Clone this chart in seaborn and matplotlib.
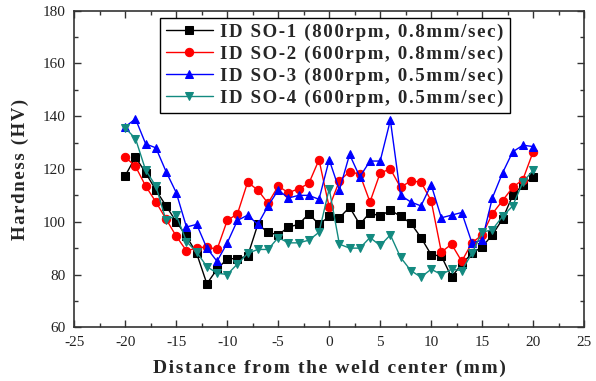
import numpy as np
import pandas as pd
import matplotlib
matplotlib.use("Agg")
import matplotlib.pyplot as plt
import seaborn as sns
from matplotlib.ticker import MultipleLocator

distance = list(range(-20, 21))
so1 = [117.5, 124.5, 118.5, 112, 106, 100, 94.5, 88, 76.5, 82, 86, 86, 87, 99, 96, 95,
       98, 99, 103, 99, 102, 101.5, 105.5, 99, 103.5, 102, 104.5, 102, 99.5, 94, 87.5,
       87, 79, 84, 88, 90.5, 95, 101, 110, 114, 117]
so2 = [124.5, 121, 113.5, 107.5, 101, 94.5, 89, 90, 90.5, 89.5, 100.5, 103, 115, 112,
       107, 113.5, 111, 112.5, 114.5, 123.5, 105.5, 115.5, 119, 118, 107.5, 118.5, 120,
       113, 115.5, 115, 108, 88.5, 91.5, 85, 92, 95, 103, 108, 113, 116, 126.5]
so3 = [136, 139, 129.5, 128, 119, 111, 98, 99, 90, 85, 92, 100.5, 102.5, 99, 106, 112,
       109, 110, 110, 108.5, 123.5, 112, 125.5, 117, 123, 123, 138.5, 110, 107.5, 106,
       114, 101.5, 102.5, 103.5, 92, 93, 109, 118.5, 126.5, 129, 128.5]
so4 = [135.5, 131.5, 119.5, 113.5, 100.5, 102.5, 92.5, 88.5, 83, 80.5, 80, 84, 88, 89.5,
       89.5, 94, 92, 92, 93, 96, 112.5, 91.5, 90, 90, 94, 91, 95, 86.5, 81.5, 79, 82, 80,
       82, 81.5, 88, 96, 97, 102, 106, 115, 119.5]
labels = ["ID SO-1 (800rpm, 0.8mm/sec)", "ID SO-2 (600rpm, 0.8mm/sec)",
          "ID SO-3 (800rpm, 0.5mm/sec)", "ID SO-4 (600rpm, 0.5mm/sec)"]
xlabel = "Distance from the weld center (mm)"
ylabel = "Hardness (HV)"
series = [so1, so2, so3, so4]
colors = ["#000000", "#ff0000", "#0000ff", "#138a80"]
markers = ["s", "o", "^", "v"]


def spaced(s):
    return "\u200a".join(s)


sns.set_style("ticks")
plt.rcParams["font.family"] = ["Liberation Serif", "DejaVu Serif"]
plt.rcParams["axes.unicode_minus"] = False

fig = plt.figure(figsize=(5.96, 3.81), dpi=100)
ax = fig.add_axes([0.1247, 0.141, 0.8553, 0.831])

for vals, lab, c, m in zip(series, labels, colors, markers):
    df = pd.DataFrame({"x": distance, "y": vals})
    sns.lineplot(data=df, x="x", y="y", ax=ax, color=c, marker=m, markersize=6,
                 markeredgecolor=c, linewidth=1.0, label=spaced(lab))

ax.set_xlim(-25, 25)
ax.set_ylim(60, 180)
ax.xaxis.set_major_locator(MultipleLocator(5))
ax.xaxis.set_minor_locator(MultipleLocator(2.5))
ax.yaxis.set_major_locator(MultipleLocator(20))
ax.yaxis.set_minor_locator(MultipleLocator(10))
ax.tick_params(which="both", direction="in", top=True, right=True, colors="#333333",
               labelcolor="#222222")
ax.tick_params(which="major", length=5, width=1.0, labelsize=11, pad=6)
ax.tick_params(which="minor", length=3, width=1.0)
for s in ax.spines.values():
    s.set_linewidth(1.2)
    s.set_color("#333333")

ax.set_xlabel(spaced(xlabel), fontsize=14, fontweight="bold", labelpad=8)
ax.set_ylabel(spaced(ylabel), fontsize=13.5, fontweight="bold", labelpad=10)

leg = ax.legend(loc="upper left", bbox_to_anchor=(0.168, 0.977), borderaxespad=0,
                frameon=True, fancybox=False, edgecolor="black", framealpha=1,
                prop={"weight": "bold", "size": 13.6}, handlelength=2.5,
                labelspacing=0.25, borderpad=0.3, handletextpad=0.4)
leg.get_frame().set_linewidth(1.0)

fig.savefig("out.png", dpi=100)
